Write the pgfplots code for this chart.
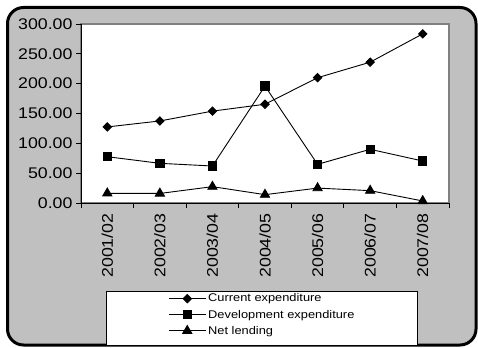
\documentclass[border=0pt]{standalone}
\usepackage{pgfplots}
\pgfplotsset{compat=1.18}
\usepackage{fontspec}
\setmainfont[FakeStretch=1.15]{Liberation Sans}
\definecolor{bggray}{HTML}{C0C0C0}
\definecolor{framegray}{HTML}{808080}
\begin{document}
\begin{tikzpicture}[x=1bp,y=1bp]
\path[use as bounding box] (0,0) rectangle (478,347);
\fill[white] (0,0) rectangle (478,347);
\draw[line width=3bp, fill=bggray, rounded corners=16bp] (7.5,2) rectangle (476,339.5);
\draw[fill=white, draw=black, line width=0.7bp] (106,2) rectangle (417,56);
\begin{axis}[
  at={(81bp,144bp)}, anchor=south west,
  scale only axis, width=368bp, height=179bp,
  xmin=0.5, xmax=7.5, ymin=0, ymax=300,
  xtick={0.5,1.5,...,7.5}, xticklabels={},
  extra x ticks={1,2,3,4,5,6,7},
  extra x tick labels={2001/02,2002/03,2003/04,2004/05,2005/06,2006/07,2007/08},
  extra x tick style={major tick length=0pt},
  xticklabel shift=7bp,
  ytick={0,50,...,300},
  axis x line*=bottom, axis y line*=left,
  axis line style={black, line width=0.8bp, -},
  tick align=outside, major tick length=5bp,
  tick style={black, line width=0.8bp},
  axis background/.style={fill=white, draw=framegray, line width=1.2bp},
  x tick label style={rotate=90, anchor=east, font=\fontsize{15.5}{15.5}\selectfont},
  y tick label style={font=\fontsize{15.5}{15.5}\selectfont},
  yticklabel style={/pgf/number format/.cd, fixed, fixed zerofill, precision=2},
  /pgf/number format/assume math mode=true,
  legend style={draw=none, fill=none, at={(axis description cs:0.234,-0.49)}, anchor=north west,
    font=\fontsize{11.2}{13}\selectfont, row sep=2.5bp, inner sep=1bp},
  legend cell align=left,
  legend image code/.code={\draw[mark repeat=2, mark phase=2, #1] plot coordinates {(0bp,0bp) (18.5bp,0bp) (37bp,0bp)};},
  every axis plot/.append style={black, line width=0.9bp},
]
\addplot[mark=square*, mark size=2.95, mark options={rotate=45}] coordinates {
(1,127.5) (2,137.5) (3,154) (4,165.5) (5,210) (6,236) (7,283.5)};
\addlegendentry{Current expenditure}
\addplot[mark=square*, mark size=4.2] coordinates {
(1,77.6) (2,66.5) (3,62) (4,196) (5,64.8) (6,90) (7,70.4)};
\addlegendentry{Development expenditure}
\addplot[mark=triangle*, mark size=5.3] coordinates {
(1,16.2) (2,16) (3,27.4) (4,14) (5,25) (6,20.7) (7,3.4)};
\addlegendentry{Net lending}
\end{axis}
\end{tikzpicture}
\end{document}
